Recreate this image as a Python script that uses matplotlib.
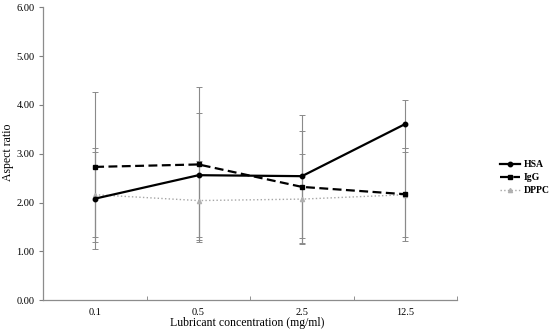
import numpy as np
import matplotlib.pyplot as plt
from matplotlib.lines import Line2D

plt.rcParams['font.family'] = ['Liberation Serif', 'DejaVu Serif']

# concentrations (mg/ml)
conc = ['0.1', '0.5', '2.5', '12.5']

hsa = [2.08, 2.56, 2.54, 3.61]
hsa_sd = [1.03, 1.27, 1.26, 0.50]

igg = [2.73, 2.78, 2.32, 2.17]
igg_sd = [1.54, 1.59, 1.15, 0.95]

dppc = [2.16, 2.04, 2.07, 2.16]
dppc_sd = [0.87, 0.81, 0.92, 0.87]

x = np.arange(len(conc))

fig = plt.figure(figsize=(5.5, 3.32), dpi=100)
ax = fig.add_axes([0.079, 0.096, 0.752, 0.882])

ekw = dict(ecolor='#8a8a8a', elinewidth=0.8, capsize=2.0, capthick=0.7)

ax.errorbar(x, dppc, yerr=dppc_sd, color='#a6a6a6', ls=':', lw=1.0,
            marker='^', ms=3, mfc='#b0b0b0', mec='#b0b0b0', **ekw)
ax.errorbar(x, igg, yerr=igg_sd, color='black', ls=(0, (4, 2)), lw=1.6,
            marker='s', ms=3.5, **ekw)
ax.errorbar(x, hsa, yerr=hsa_sd, color='black', ls='-', lw=1.6,
            marker='o', ms=3.2, **ekw)

ax.set_xlim(-0.5, 3.5)
ax.set_ylim(0, 6)
ax.set_yticks(np.arange(0, 6.01, 1))
ax.set_yticklabels(['%.2f' % v for v in np.arange(0, 6.01, 1)])
ax.set_xticks(x)
ax.set_xticklabels(conc)
ax.set_xticks(np.arange(-0.5, 3.6, 1), minor=True)
ax.tick_params(axis='x', which='major', length=0, pad=6, labelsize=7.5)
ax.tick_params(axis='x', which='minor', direction='in', length=3, color='#7f7f7f')
ax.tick_params(axis='y', direction='out', length=3, color='#7f7f7f', labelsize=7.5)

for s in ['top', 'right']:
    ax.spines[s].set_visible(False)
for s in ['left', 'bottom']:
    ax.spines[s].set_color('#8c8c8c')
    ax.spines[s].set_linewidth(0.9)

fig.text(0.014, 0.54, 'Aspect ratio', rotation=90, ha='center', va='center', fontsize=8.5)
fig.text(0.45, 0.028, 'Lubricant concentration (mg/ml)', ha='center', va='center', fontsize=8.5)

handles = [
    Line2D([], [], color='black', ls='-', lw=1.6, marker='o', ms=3.2),
    Line2D([], [], color='black', ls=(0, (4, 2)), lw=1.6, marker='s', ms=3.5),
    Line2D([], [], color='#a6a6a6', ls=':', lw=1.0, marker='^', ms=3,
           mfc='#b0b0b0', mec='#b0b0b0'),
]
fig.legend(handles, ['HSA', 'IgG', 'DPPC'], loc='center left', bbox_to_anchor=(0.902, 0.465),
           frameon=False, prop={'size': 7, 'weight': 'bold'},
           handlelength=2.1, handletextpad=0.3, labelspacing=0.4, borderaxespad=0)

fig.savefig('out.png', dpi=100)
